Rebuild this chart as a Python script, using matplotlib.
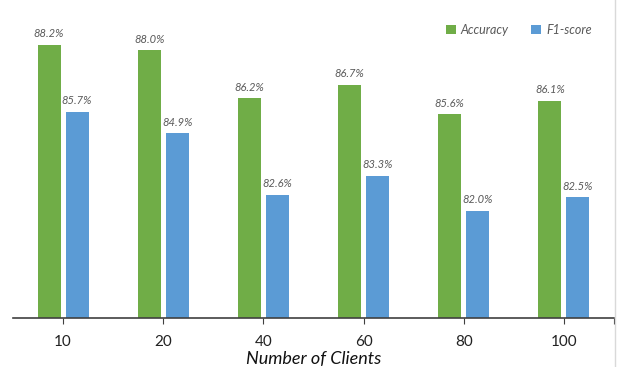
import numpy as np
import matplotlib.pyplot as plt
from matplotlib.lines import Line2D

plt.rcParams['font.family'] = ['Lato', 'DejaVu Sans']

clients = ["10", "20", "40", "60", "80", "100"]
accuracy = [88.2, 88.0, 86.2, 86.7, 85.6, 86.1]
f1_score = [85.7, 84.9, 82.6, 83.3, 82.0, 82.5]

green = "#70AD47"
blue = "#5B9BD5"
grey_txt = "#595959"

fig = plt.figure(figsize=(6.25, 3.67), dpi=100)
ax = fig.add_axes([13/625, 49/367, 601/625, 318/367])

x = np.arange(len(clients))
w = 0.23
b1 = ax.bar(x - 0.14, accuracy, w, color=green, label="Accuracy", zorder=2)
b2 = ax.bar(x + 0.14, f1_score, w, color=blue, label="F1-score", zorder=2)

# value labels above the bars
for bars, vals in ((b1, accuracy), (b2, f1_score)):
    for r, v in zip(bars, vals):
        ax.annotate(f"{v:.1f}%", (r.get_x() + r.get_width()/2, v),
                    xytext=(0, 4), textcoords="offset points",
                    ha="center", va="bottom", fontsize=8,
                    style="italic", color=grey_txt)

ax.set_xlim(-0.5, len(clients) - 0.5)
ax.set_ylim(78, 89.87)
ax.set_xticks(list(x) + [len(clients) - 0.5])
ax.set_xticklabels(clients + [""], fontsize=11, color="#222222")
ax.tick_params(axis="x", length=4, color="#404040", pad=8)
ax.set_yticks([])
for s in ("left", "right", "top"):
    ax.spines[s].set_visible(False)
ax.spines["bottom"].set_color("#404040")
ax.spines["bottom"].set_linewidth(1.2)

ax.set_xlabel("Number of Clients", fontsize=13, style="italic",
              color="#111111", labelpad=2)

ax.legend(loc="upper right", bbox_to_anchor=(0.982, 0.96), ncol=2,
          frameon=False, prop={"style": "italic", "size": 9},
          handlelength=0.8, handleheight=0.8, handletextpad=0.4,
          columnspacing=1.8, labelcolor=grey_txt)

fig.add_artist(Line2D([615/625, 615/625], [0, 1], color="#d9d9d9", lw=1))

fig.savefig("out.png", dpi=100)
